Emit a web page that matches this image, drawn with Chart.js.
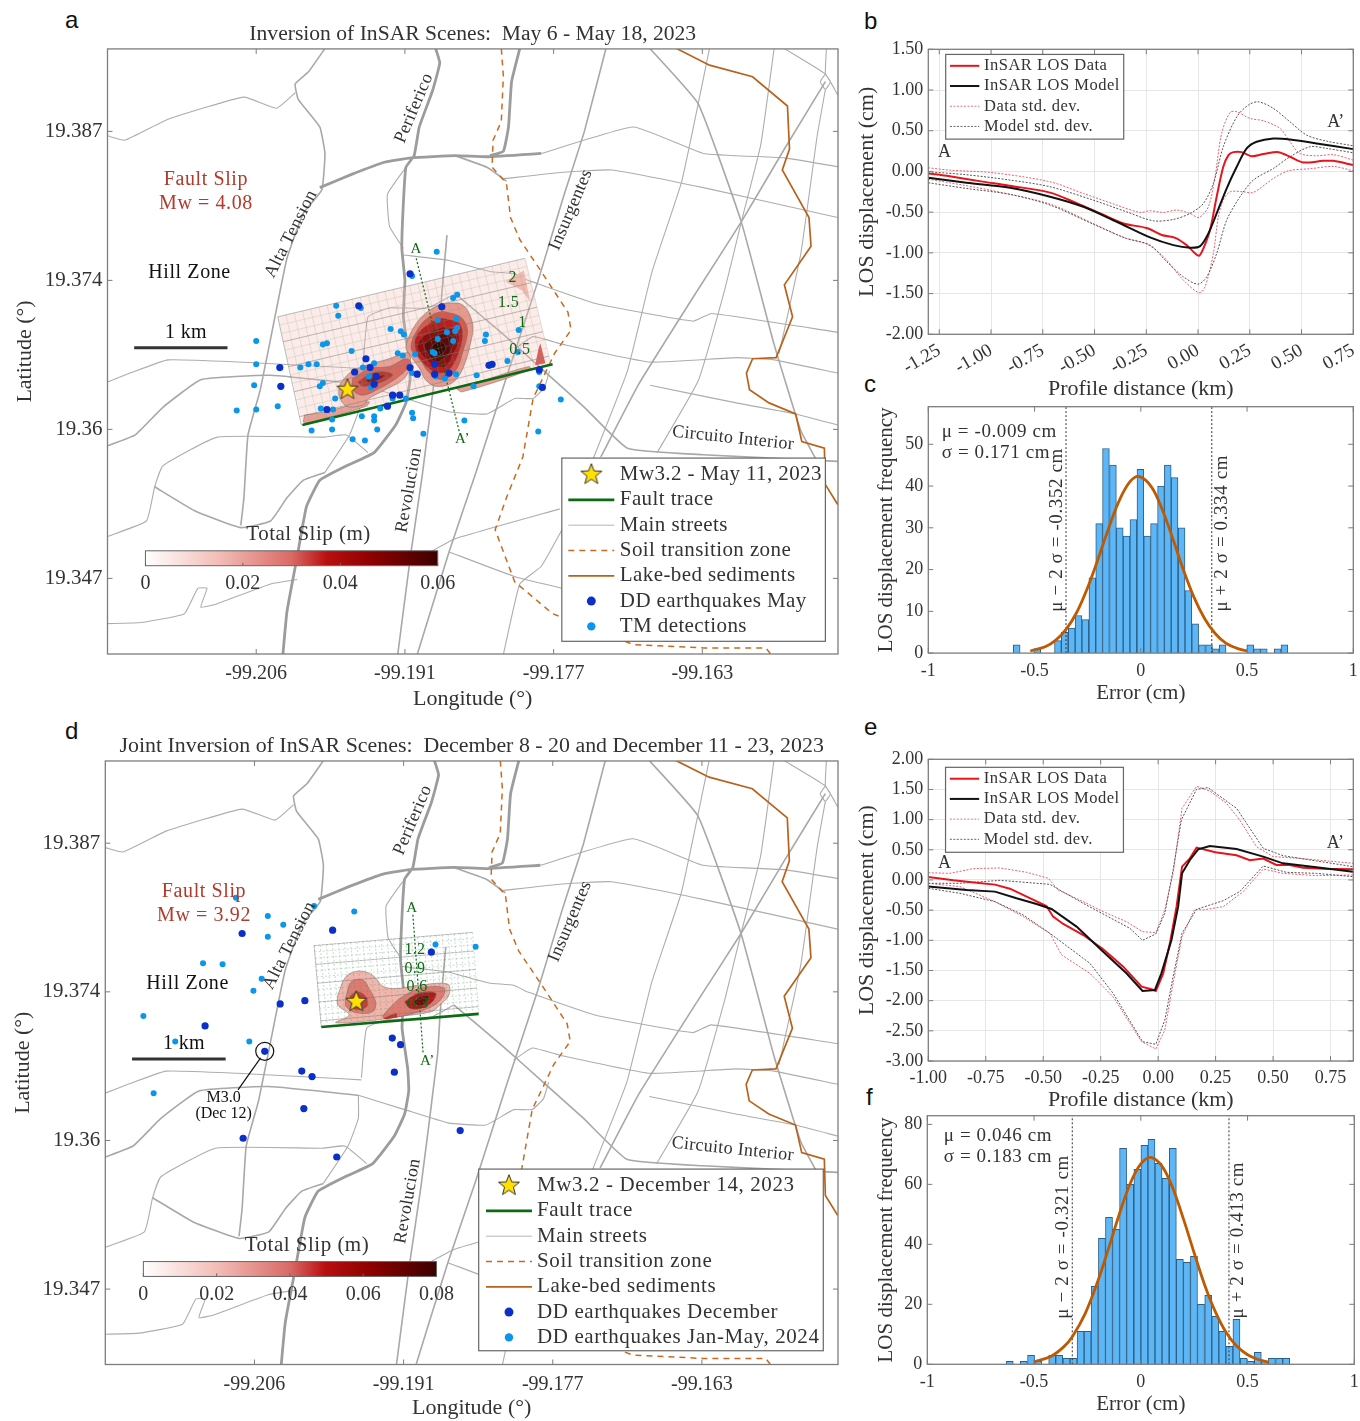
<!DOCTYPE html>
<html>
<head>
<meta charset="utf-8">
<style>
	html, body { margin: 0; padding: 0; background: #fff; }
	#page { position: relative; width: 1360px; height: 1421px; overflow: hidden; }
	canvas { position: absolute; }
	.tag { position: absolute; font: 24px "Liberation Sans", sans-serif; color: #111; line-height: 24px; }
</style>
<script src="https://cdn.jsdelivr.net/npm/chart.js@4"></script>
</head>
<body>
<div id="page">
	<div class="tag" style="left:65px;top:8px">a</div>
	<div class="tag" style="left:864px;top:9px">b</div>
	<div class="tag" style="left:864px;top:372px">c</div>
	<div class="tag" style="left:65px;top:719px">d</div>
	<div class="tag" style="left:864px;top:715px">e</div>
	<div class="tag" style="left:866px;top:1085px">f</div>
</div>
<script>
// map polylines are [a, b] pairs: lon = -99 - a/1000, lat = 19 + b/1000
const roadsThick = [
	[[188.5,394.5],[188.1,393.2],[188.8,390.7],[190.1,387.4],[190.6,384.8],[191.4,383.75],[191.65,380.5],[191.8,376.4],[191.5,373.5],[191.65,370.2],[191.1,366.5],[191,364.5],[191.4,362.4],[192.4,360.4],[194.5,357.9],[197.2,356.7],[199.8,355.4],[201.1,353],[202,348.5],[203,343.5],[203.4,339.6]],
	[[199.8,381.9],[196.7,383.1],[193.5,384.2],[190.9,384.6],[186.6,384.8],[183.5,384.7],[178.2,385]],
	[[180.3,394.5],[181.1,391.5],[181.4,387.4],[181.9,385.2],[183.2,384.8]],
]
const roadsMedium = [
	[[199.3,394.5],[200.9,392.4],[202.2,391.3],[201.9,389.9],[199.8,387.4],[199.3,385],[199.6,381.7],[201.4,379.6],[203,375.5],[204,371],[205.6,363.6],[206.8,359.5],[207.2,353.8],[207.5,351.3]],
	[[220.5,358.5],[217.8,359.5],[215.1,362],[211.4,364.5],[204.6,364.9],[195.9,364.1]],
	[[215.9,354.8],[211.95,352.6],[207.5,351.1],[204.6,351.7],[203,353.8],[201.4,355.4],[199.3,356.1]],
	[[186.6,384.8],[183.5,383.75],[181.6,382.5]],
	[[171.9,394.5],[174,387],[176.1,380.9],[178.5,373.5],[181.4,365.3],[184.5,356.3],[187.2,348.9],[190.3,339.6]],
	[[150.5,391.5],[154.5,385.4],[158.7,378.8],[162.9,372.7],[168.7,364.1],[172.4,357.5]],
	[[167.6,394.5],[162.9,389.5],[158.7,378.8],[155.5,367.7],[152.9,359.9],[151.3,357.1]],
	[[186.6,372.3],[181.9,368.6],[177.7,365.1],[174,362],[169.8,358.3],[162.4,357.7],[149.3,357.1]],
	[[187.4,377.6],[187.9,372.3],[188.2,367.8],[189.8,355.9],[190.9,348.9],[192.2,339.6]],
]
const roadsThin = [
	[[220.5,386.6],[218.8,386.2],[214.6,388.1],[207.2,390.1],[204,389.1],[202.2,390.5]],
	[[220.5,364.3],[218.3,365.1],[214.6,366.3],[207.7,366.1],[199.3,365.7],[195.6,365.5]],
	[[220.5,350.3],[216.7,351.7],[215.9,354.8],[215.1,356.7],[209.8,359.3],[199.3,359.3],[197.2,359.5],[195.1,357.9]],
	[[220.5,342.4],[217.2,342.5],[213,343.3],[211.7,345.6],[210.8,345.6],[211.4,343.9],[209.8,344.2],[204.6,346],[202,346.4]],
	[[195.9,364.1],[195.9,362],[196.9,359.5],[199.3,356.1]],
	[[195.9,364.1],[191.4,362.8],[187.2,361.6],[183.5,361.4],[180.8,362.8],[179,362.8],[177.9,363.8],[177.4,365.3]],
	[[161.8,394.5],[164.5,382.5],[167.4,374.3],[169.8,365.3],[172.9,357.9],[175,353],[178.2,347.6],[180.3,346],[181.9,339.6]],
	[[155.5,394.5],[156.8,385.8],[158.7,378.8],[160.3,372.7],[162.9,364.4],[166.9,357.9]],
	[[154.5,394.5],[150.5,392.2],[149.3,390.3]],
	[[150.4,394.5],[150.5,392.2],[150,391.5],[150.5,390.8],[151,391.5],[150.5,392.2]],
	[[150.5,390.8],[151.3,386.6],[152.9,375.9],[155,366.9]],
	[[178.2,385],[169.2,387.4],[162.4,385],[154.5,384.6],[149.3,383.8]],
	[[181.9,382.7],[176.1,383.3],[171.3,383.5],[162.4,381.9],[149.3,379.2]],
	[[179.5,373.5],[172.9,371.4],[163.4,369.8],[161.6,370.5],[149.3,368.8]],
	[[180.8,367.3],[179,368.4],[176.1,367.7],[167.6,366.1],[159.2,366.5],[155.5,366.3],[149.3,365.1]],
	[[167.6,364],[159.2,362.4],[153.4,361.4],[149.3,360.4]],
	[[189.8,348.5],[186.6,350.1],[176.4,352.8]],
	[[187.2,348.9],[180.6,346.6],[176.1,345.6]],
	[[191.4,383.75],[193.2,381.3],[193,378.4],[191.65,376.4]],
	[[191.65,375.8],[187.2,375.3],[183.2,374.3],[180.8,374.1],[179.5,373.5]],
	[[195.6,365.7],[195.1,370.2],[193,371],[189.3,371],[186.6,372.3]],
]
const soilZone = [[182.1,394.5],[181.9,392],[182.1,387.9],[182.9,386.2],[183,383.75],[181.6,382.3],[181.2,379.2],[180.3,377.2],[178.2,374.3],[175.6,370.6],[175.3,369],[176.9,366.9],[179,362.8],[180,357.5],[181.6,353.8],[182.7,350.9],[180.8,346.2],[177.1,343.3],[169.2,340.5],[162.4,340.2],[156.3,340.2],[155.8,339.6]]
const lakeBed = [[165,394.5],[161.8,393],[157.6,391.95],[154.2,389.3],[154,385.4],[154.7,383.5],[152.1,379.2],[151.9,376.6],[154.5,373.1],[153.7,370.2],[155.3,366.5],[157.6,366.4],[158.2,365.1],[157.9,363.6],[156,362.4],[153.4,361.4],[152.8,358.9],[150.6,358.3],[150.5,355],[149.3,353.2]]

// panel a: fault plane and slip contours
const meshA = [[203.9,370.2],[179.8,375.5],[177.25,365.9],[201.6,360.4]]
const slipA = [
	{ c: 'rgba(245,190,180,0.30)', p: [[203.9,370.2],[179.7,375.5],[177.3,366],[201.5,360.6]] },
	{ c: '#f3b9ae', p: [[179.9,374.4],[179.3,371.6],[180.1,372.6],[181.7,373.4]] },
	{ c: '#e8a095', p: [[201.3,361.3],[199.2,361.6],[197.2,362.1],[195,362.5],[195.3,362.1],[198.9,361.1],[201.3,360.6]] },
	{ c: '#e8a095', p: [[186.5,363.7],[183.3,364.6],[179.4,365.7],[179.3,365.4],[185.9,363.4]] },
	{ c: '#d8605a', p: [[178.3,367.8],[177.8,366],[178.8,365.8],[178.5,367.2]] },
	{ c: '#ec9f94', p: [[197.9,364],[196.9,365.1],[195.3,365.8],[193.4,366.3],[192.1,366.7],[191.1,366.9],[191.1,365.4],[191.7,364.5],[193.4,363.6],[195,362.8],[195.6,362.2],[197.2,362.1],[197.9,363]] },
	{ c: '#d9665c', p: [[196.6,364.6],[195,365.5],[193,365.7],[191.4,366.4],[190.9,366],[192.1,364.8],[194,363.7],[195.6,363.1],[196.6,363.6]] },
	{ c: '#b83a35', p: [[196.1,364.3],[194.7,365.1],[193.4,365.2],[192.7,364.9],[194,364.2],[195.6,363.9]] },
	{ c: '#8c1818', p: [[195.3,364.5],[194.3,364.8],[193.5,364.9],[194,364.5],[195,364.2]] },
	{ c: '#e8988c', p: [[187.8,371.4],[185.9,371.3],[184.9,369.6],[185.1,367.8],[185.9,365.4],[186.9,364.2],[188.5,363.9],[189.5,364.5],[190,365.4],[190.9,366.6],[191.4,367.5],[190.4,369.6],[189.1,370.8]] },
	{ c: '#d4584e', p: [[187.8,370.7],[186.1,370.2],[185.4,369],[185.9,366.9],[186.5,365.4],[187.8,364.5],[189.1,365.1],[190,366.3],[190.9,367.4],[190.1,369.3],[188.8,370.4]] },
	{ c: '#b81f1f', p: [[187.8,370.1],[186.2,369.6],[185.9,368.4],[186.4,366.6],[187.2,365.4],[188.3,365.1],[189.5,365.8],[190.4,367],[190.4,368.4],[189.1,369.6]] },
	{ c: '#8c0f0f', p: [[187.8,369.3],[186.5,369],[186.2,368.1],[186.9,366.6],[187.5,365.7],[188.5,365.7],[189.5,366.4],[190.3,367.5],[189.5,368.6]] },
	{ c: '#5e0a0a', p: [[187.8,368.7],[186.8,368.3],[187,367.2],[187.7,366.4],[188.5,366.1],[189.3,366.9],[189.6,367.7],[188.8,368.3]] },
	{ c: '#3e0505', p: [[188,368],[187.5,367.5],[187.8,366.9],[188.5,366.7],[189,367.2],[188.7,367.7]] },
]
const traceA = [[201.5,360.4],[177.1,365.9]]
const profileA = [[190.4,375.5],[186.2,359.8]]
const ddMay = [[191,374.1],[196,371.2],[187.9,371.1],[195.3,366.4],[203.7,365.6],[196.4,365.2],[194.9,365.6],[194.3,364.8],[194.5,364.1],[203.6,363.9],[199.1,361.8],[192.7,363.1],[192,363.1],[193.2,362.1],[191,365.6],[190.3,365],[188.6,365.9],[188.6,365],[187.2,365.1],[183,365.9],[183.3,365.8],[178.4,365.4],[178.1,363.8]]
const tmDetections = [[188.4,376.1],[190.8,373.9],[198.2,371.2],[198,370.3],[195.8,371],[186.8,371.9],[186.4,372.2],[192.9,369.1],[191.9,368.9],[191.6,368.6],[188.3,369.9],[186.5,370],[187.4,368.8],[186.4,369.2],[186.6,368.9],[188.3,368.2],[186.8,368],[183.6,368.6],[183.7,368],[180.4,369],[199.5,367.7],[199.1,367.8],[206,368],[196.7,367.1],[192.2,366.9],[191.7,366.7],[190.5,366.8],[188.8,367],[188.6,366.9],[180.5,367],[181.5,366.2],[206,365.9],[200.9,365.9],[200.1,365.9],[201.7,365.6],[195.6,365.6],[194.5,366],[190.8,365.1],[188.5,364.8],[187.6,364.6],[186.5,365],[184.5,364.9],[184.8,363.9],[195,364.8],[199.5,364.2],[199.8,363.9],[206.2,364],[198.3,362.8],[194.8,363.8],[203.9,362.1],[206,361.8],[207.9,361.7],[199.7,361.9],[198.5,361.8],[193.9,361.9],[192.7,362.8],[191.4,362.8],[190.8,361.5],[190.7,361],[195.7,361.2],[194.5,361.2],[194.5,360.8],[198.6,360.9],[194.2,360],[198.6,360],[200.6,359.9],[196.6,359.1],[195.4,359],[189.7,359.6],[185.7,360.8],[176.3,362.7],[178.5,359.8],[178.4,365.2],[178.4,363.9]]
const starA = [197.1,363.6]

// panel d: fault plane and slip contours
const meshD = [[200.2,377.7],[184.8,378.9],[184.2,371.6],[199.5,370.3]]
const slipD = [
	{ c: '#f2b5ac', p: [[197.9,373.2],[197.1,374.9],[195.8,375.4],[194.5,375],[193.5,374],[192.2,373.8],[190,374.1],[187.2,374.2],[187.1,373.2],[188.1,372.2],[188.8,371.7],[191.6,371.3],[194.5,370.9],[198.1,370.7],[196.8,371.4],[197.9,372.3]] },
	{ c: '#df7a70', p: [[197.1,373.1],[196.6,374.4],[195.5,374.6],[194.8,373.7],[194.2,372.5],[194.5,371.7],[196.1,371.6],[197.1,372.2]] },
	{ c: '#c73a36', p: [[196.7,373.1],[196.1,373.5],[195.3,373.2],[195,372.3],[195.6,371.9],[196.4,372]] },
	{ c: '#df7a70', p: [[191.9,372.9],[190,373.8],[187.6,373.9],[187.6,373.2],[188.5,372.3],[190,371.7],[192.2,371.2],[193.5,371.2],[192.9,372]] },
	{ c: '#b51818', p: [[191.4,372.6],[190,373.4],[188.4,373.4],[188.7,372.6],[189.8,372],[190.9,372]] },
	{ c: '#6e0c0c', p: [[190.6,372.6],[189.8,373.1],[189,373.1],[189.3,372.5],[190,372.2]] },
	{ c: '#c0312c', p: [[193.5,371.1],[192.2,371.6],[192.1,371.2],[193.2,371]] },
]
const traceD = [[199.5,370.3],[184.2,371.5]]
const profileD = [[190.6,380.5],[189.6,367.9]]
const ddDecember = [[207.2,378.8],[198.4,379.1],[188.8,377.1],[210.8,370.4],[203.5,372.4],[201.1,372.7],[205,368.1],[192.6,369.3],[191.8,368.7],[201.4,366.3],[200.4,365.8],[192.4,366.2],[201.2,362.9],[207.1,360.2],[186,360.9],[198,358.5]]
const ddJanMay = [[207.8,382.05],[204.7,380.4],[203.2,379.6],[204.7,378.5],[200.2,381.3],[196.3,380.8],[188.4,377.8],[184.5,377.6],[211,376.1],[209.1,376],[205.3,374.7],[206.1,373.6],[216.8,371.3],[213.7,369],[206.5,369],[215.8,364.3]]
const starD = [196.1,372.6]
const m3Event = [205,368.1]
const m3Leader = [[205.4,367.5],[207.6,364.6]]
const scaleBar = [[217.9,367.4],[208.8,367.4]]

// map axes
const lonTicks = [-99.206, -99.1915, -99.177, -99.1625]
const lonTickLabels = ['-99.206', '-99.191', '-99.177', '-99.163']
const latTicks = [19.3465, 19.36, 19.3735, 19.387]
const latTickLabels = ['19.347', '19.36', '19.374', '19.387']

// panel b profile
const bDataX = [-1.303,-1.2,-1.04,-0.91,-0.715,-0.586,-0.473,-0.36,-0.248,-0.175,-0.11,-0.055,-0.023,0.005,0.026,0.058,0.09,0.122,0.147,0.171,0.211,0.259,0.316,0.388,0.444,0.509,0.605,0.654,0.75]
const bData = [-0.025,-0.06,-0.125,-0.175,-0.26,-0.39,-0.515,-0.64,-0.695,-0.78,-0.815,-0.905,-0.985,-1.035,-0.945,-0.72,-0.31,0.057,0.2,0.237,0.237,0.188,0.213,0.237,0.18,0.11,0.13,0.13,0.078]
const bModelX = [-1.303,-1.118,-0.908,-0.715,-0.554,-0.393,-0.232,-0.119,-0.039,0.01,0.05,0.09,0.138,0.187,0.235,0.283,0.364,0.444,0.573,0.75]
const bModel = [-0.078,-0.14,-0.2,-0.31,-0.434,-0.618,-0.81,-0.905,-0.937,-0.917,-0.76,-0.516,-0.21,0.057,0.282,0.364,0.405,0.393,0.344,0.274]
const bDataUp = [[-1.303,0.045],[-1.2,0.016],[-0.99,-0.016],[-0.715,-0.127],[-0.554,-0.27],[-0.393,-0.413],[-0.28,-0.503],[-0.232,-0.483],[-0.167,-0.503],[-0.103,-0.475],[-0.039,-0.516],[0.005,-0.565],[0.05,-0.434],[0.082,-0.065],[0.114,0.467],[0.155,0.725],[0.187,0.733],[0.251,0.651],[0.316,0.622],[0.396,0.528],[0.444,0.364],[0.493,0.22],[0.573,0.192],[0.654,0.205],[0.75,0.139]]
const bDataLow = [[-1.303,-0.094],[-1.2,-0.139],[-1.006,-0.229],[-0.715,-0.401],[-0.507,-0.639],[-0.36,-0.81],[-0.248,-0.892],[-0.167,-1.048],[-0.071,-1.334],[0.005,-1.49],[0.034,-1.416],[0.074,-1.007],[0.098,-0.557],[0.122,-0.352],[0.155,-0.25],[0.219,-0.25],[0.267,-0.258],[0.364,-0.086],[0.436,0.008],[0.541,0.033],[0.654,0.061],[0.75,0.008]]
const bModelUp = [[-1.303,-0.004],[-1.118,-0.041],[-0.908,-0.106],[-0.715,-0.188],[-0.507,-0.352],[-0.346,-0.495],[-0.216,-0.606],[-0.119,-0.589],[-0.039,-0.516],[0.026,-0.393],[0.074,-0.147],[0.122,0.303],[0.187,0.671],[0.243,0.815],[0.291,0.855],[0.364,0.774],[0.444,0.61],[0.525,0.446],[0.622,0.372],[0.75,0.315]]
const bModelLow = [[-1.303,-0.139],[-1.118,-0.209],[-0.908,-0.282],[-0.715,-0.413],[-0.507,-0.647],[-0.346,-0.823],[-0.232,-0.905],[-0.151,-1.109],[-0.071,-1.294],[0,-1.384],[0.042,-1.294],[0.09,-1.007],[0.138,-0.6],[0.203,-0.311],[0.267,-0.106],[0.364,0.037],[0.444,0.18],[0.541,0.303],[0.622,0.282],[0.75,0.229]]
const bTicksX = [-1.25,-1,-0.75,-0.5,-0.25,0,0.25,0.5,0.75]
const bTicksY = [-2,-1.5,-1,-0.5,0,0.5,1,1.5]

// panel e profile
const eData = [[-1,0.05],[-0.891,-0.005],[-0.79,-0.044],[-0.71,-0.077],[-0.645,-0.144],[-0.572,-0.276],[-0.486,-0.431],[-0.457,-0.608],[-0.413,-0.729],[-0.326,-0.912],[-0.239,-1.149],[-0.152,-1.436],[-0.072,-1.768],[-0.029,-1.812],[-0.01,-1.84],[0.022,-1.547],[0.051,-1.05],[0.08,-0.442],[0.104,0.221],[0.138,0.359],[0.167,0.536],[0.249,0.459],[0.341,0.409],[0.399,0.326],[0.457,0.354],[0.514,0.249],[0.572,0.249],[0.63,0.204],[0.717,0.188],[0.848,0.177]]
const eModel = [[-1,-0.11],[-0.833,-0.166],[-0.71,-0.193],[-0.616,-0.304],[-0.529,-0.398],[-0.464,-0.481],[-0.355,-0.773],[-0.239,-1.188],[-0.138,-1.547],[-0.068,-1.84],[-0.014,-1.823],[0.014,-1.547],[0.058,-0.994],[0.087,-0.442],[0.104,0.11],[0.138,0.331],[0.174,0.508],[0.225,0.564],[0.341,0.514],[0.457,0.387],[0.543,0.276],[0.688,0.21],[0.848,0.138]]
const eDataUp = [[-1,0.12],[-0.906,0.11],[-0.804,0.188],[-0.688,0.199],[-0.572,0.127],[-0.478,0.028],[-0.435,-0.166],[-0.326,-0.359],[-0.239,-0.525],[-0.138,-0.691],[-0.068,-0.856],[-0.01,-0.873],[0.029,-0.497],[0.065,0.11],[0.104,1.188],[0.167,1.552],[0.225,1.475],[0.297,1.271],[0.355,0.994],[0.428,0.552],[0.5,0.387],[0.616,0.359],[0.848,0.276]]
const eDataLow = [[-1,-0.055],[-0.862,-0.11],[-0.71,-0.359],[-0.587,-0.608],[-0.471,-0.884],[-0.42,-1.243],[-0.297,-1.547],[-0.196,-1.934],[-0.072,-2.68],[-0.01,-2.801],[0.029,-2.486],[0.065,-1.713],[0.104,-0.939],[0.159,-0.486],[0.196,-0.497],[0.283,-0.442],[0.37,-0.193],[0.428,0.055],[0.457,0.182],[0.543,0.11],[0.688,0.072],[0.848,0.083]]
const eModelUp = [[-1,-0.055],[-0.862,-0.055],[-0.688,-0.006],[-0.471,-0.072],[-0.326,-0.387],[-0.123,-0.801],[-0.068,-1],[-0.01,-0.895],[0.029,-0.552],[0.065,0.166],[0.101,0.994],[0.167,1.503],[0.217,1.53],[0.341,1.188],[0.457,0.525],[0.543,0.403],[0.688,0.315],[0.848,0.221]]
const eModelLow = [[-1,-0.138],[-0.862,-0.221],[-0.71,-0.359],[-0.587,-0.58],[-0.471,-0.884],[-0.297,-1.381],[-0.196,-1.878],[-0.068,-2.68],[-0.01,-2.724],[0.029,-2.32],[0.065,-1.602],[0.104,-0.884],[0.167,-0.486],[0.283,-0.343],[0.355,-0.193],[0.457,0.232],[0.558,0.127],[0.688,0.11],[0.848,0.055]]
const eTicksX = [-1,-0.75,-0.5,-0.25,0,0.25,0.5,0.75]
const eTicksY = [-3,-2.5,-2,-1.5,-1,-0.5,0,0.5,1,1.5,2]

// histograms
const cBins = [-0.584,-0.551,-0.519,-0.487,-0.454,-0.422,-0.39,-0.358,-0.325,-0.293,-0.261,-0.228,-0.196,-0.164,-0.131,-0.099,-0.067,-0.035,-0.002,0.03,0.062,0.095,0.127,0.159,0.192,0.224,0.256,0.288,0.321,0.353,0.385,0.418,0.45,0.482,0.515,0.547,0.579,0.611,0.644,0.676]
const cCounts = [2,0,0,1,0,0,3,5,6,9,8,18,31,49,45,30,28,32,44,28,31,40,45,42,30,15,7,2,2,1,2,0,0,0,2,1,1,0,1,2]
const cFit = [[-0.52,0.5],[-0.45,1.5],[-0.4,3.1],[-0.35,5.8],[-0.3,9.9],[-0.25,15.7],[-0.2,22.7],[-0.15,30.1],[-0.1,36.7],[-0.05,41.1],[-0.009,42.3],[0.05,39.8],[0.1,34.5],[0.15,27.5],[0.2,20],[0.25,13.4],[0.3,8.3],[0.35,4.7],[0.4,2.4],[0.45,1.2],[0.5,0.5]]
const cSigmaLines = [-0.352, 0.334]
const cTicksY = [0,10,20,30,40,50]
const fBins = [-0.614,-0.581,-0.548,-0.514,-0.481,-0.448,-0.415,-0.382,-0.348,-0.315,-0.282,-0.249,-0.216,-0.182,-0.149,-0.116,-0.083,-0.05,-0.016,0.017,0.05,0.083,0.116,0.15,0.183,0.216,0.249,0.282,0.316,0.349,0.382,0.415,0.448,0.482,0.515,0.548,0.581,0.614,0.648,0.681]
const fCounts = [1,0,1,3,1,0,3,3,2,2,11,11,26,42,49,45,72,60,65,73,75,67,62,72,35,34,36,20,23,16,11,6,15,2,1,4,1,2,2,2]
const fFit = [[-0.5,0.8],[-0.42,2.7],[-0.36,5.9],[-0.32,9.3],[-0.26,17],[-0.2,28],[-0.15,38.9],[-0.1,50.2],[-0.05,60.2],[0,66.8],[0.046,69],[0.1,66],[0.15,58.7],[0.2,48.4],[0.25,37.1],[0.3,26.3],[0.35,17.4],[0.4,10.6],[0.45,6],[0.5,3.2],[0.55,1.6],[0.6,0.7]]
const fSigmaLines = [-0.321, 0.413]
const fTicksY = [0,20,40,60,80]
const errTicks = [-1,-0.5,0,0.5,1]

const slipTicksA = [0,0.02,0.04,0.06]
const slipTicksD = [0,0.02,0.04,0.06,0.08]

const SERIF = '"Liberation Serif", serif'
const INK = '#333'
const EDGE = '#7d7d7d'
const RED = '#e8141c'
const ORANGE = '#c05a00'
const DARK_DOT = '#0a30c8'
const LIGHT_DOT = '#0a96ea'

const mapPt = (p) => ({ x: -99 - p[0] / 1000, y: 19 + p[1] / 1000 })
const xyPt = (p) => ({ x: p[0], y: p[1] })
const zipPts = (xs, ys) => xs.map((x, i) => ({ x: x, y: ys[i] }))

function joinLines(lines) {
	let out = []
	lines.forEach((l) => {
		out = out.concat(l.map(mapPt))
		out.push({ x: null, y: null })
	})
	return out
}

function lerp(a, b, t) {
	return [a[0] + (b[0] - a[0]) * t, a[1] + (b[1] - a[1]) * t]
}

// fault plane grid from its four corners
function meshLines(c, nu, nv, stepU, stepV) {
	const lines = []
	for (let i = 0; i <= nu; i += stepU) {
		lines.push([lerp(c[0], c[1], i / nu), lerp(c[3], c[2], i / nu)])
	}
	for (let j = 0; j <= nv; j += stepV) {
		lines.push([lerp(c[0], c[3], j / nv), lerp(c[1], c[2], j / nv)])
	}
	return joinLines(lines)
}

function makeStar(r) {
	const cv = document.createElement('canvas')
	cv.width = cv.height = r * 2 + 4
	const g = cv.getContext('2d')
	g.translate(r + 2, r + 2)
	g.beginPath()
	for (let i = 0; i < 10; i++) {
		const rad = i % 2 ? r * 0.42 : r
		const ang = -Math.PI / 2 + (i * Math.PI) / 5
		g.lineTo(rad * Math.cos(ang), rad * Math.sin(ang))
	}
	g.closePath()
	g.fillStyle = '#ffe000'
	g.fill()
	g.lineWidth = 1
	g.strokeStyle = '#333'
	g.stroke()
	return cv
}
const starImage = makeStar(11)

function drawText(ctx, s, x, y, o) {
	o = o || {}
	ctx.save()
	ctx.translate(x, y)
	if (o.rot) ctx.rotate((o.rot * Math.PI) / 180)
	ctx.font = (o.size || 18) + 'px ' + SERIF
	ctx.letterSpacing = (o.spacing || 0) + 'px'
	ctx.fillStyle = o.color || INK
	ctx.textAlign = o.align || 'center'
	ctx.textBaseline = 'middle'
	ctx.fillText(s, 0, 0)
	ctx.restore()
}

const framePlugin = {
	id: 'frame',
	afterDatasetsDraw(chart) {
		const { ctx, chartArea: a, scales } = chart
		ctx.save()
		ctx.strokeStyle = EDGE
		ctx.lineWidth = 1
		ctx.beginPath()
		scales.x.ticks.forEach((t) => {
			const px = scales.x.getPixelForValue(t.value)
			ctx.moveTo(px, a.bottom)
			ctx.lineTo(px, a.bottom - 5)
			ctx.moveTo(px, a.top)
			ctx.lineTo(px, a.top + 5)
		})
		scales.y.ticks.forEach((t) => {
			const py = scales.y.getPixelForValue(t.value)
			ctx.moveTo(a.left, py)
			ctx.lineTo(a.left + 5, py)
			ctx.moveTo(a.right, py)
			ctx.lineTo(a.right - 5, py)
		})
		ctx.stroke()
		ctx.lineWidth = 1.3
		ctx.strokeRect(a.left, a.top, a.right - a.left, a.bottom - a.top)
		ctx.restore()
	},
}

// free text anchored in data coordinates
const notesPlugin = {
	id: 'notes',
	afterDatasetsDraw(chart, args, opts) {
		const { ctx, scales } = chart
		;(opts.items || []).forEach((n) => {
			drawText(ctx, n.text, scales.x.getPixelForValue(n.x), scales.y.getPixelForValue(n.y), n)
		})
	},
}

const slipBarPlugin = {
	id: 'slipBar',
	afterDatasetsDraw(chart, args, opts) {
		if (!opts.ticks) return
		const { ctx, scales } = chart
		const p = mapPt([opts.west, opts.top])
		const q = mapPt([opts.east, opts.bottom])
		const x0 = scales.x.getPixelForValue(p.x)
		const x1 = scales.x.getPixelForValue(q.x)
		const y0 = scales.y.getPixelForValue(p.y)
		const y1 = scales.y.getPixelForValue(q.y)
		const g = ctx.createLinearGradient(x0, 0, x1, 0)
		g.addColorStop(0, '#ffffff')
		g.addColorStop(0.25, '#f3bdb7')
		g.addColorStop(0.5, '#d96a66')
		g.addColorStop(0.62, '#b90f0f')
		g.addColorStop(0.78, '#8c0000')
		g.addColorStop(1, '#3c0000')
		ctx.save()
		ctx.fillStyle = g
		ctx.fillRect(x0, y0, x1 - x0, y1 - y0)
		ctx.strokeStyle = '#666'
		ctx.lineWidth = 1
		ctx.strokeRect(x0, y0, x1 - x0, y1 - y0)
		const last = opts.ticks[opts.ticks.length - 1]
		opts.ticks.forEach((t) => {
			const px = x0 + ((x1 - x0) * t) / last
			ctx.beginPath()
			ctx.moveTo(px, y1)
			ctx.lineTo(px, y1 - 3)
			ctx.stroke()
			drawText(ctx, String(t), px, y1 + 18, { size: 20 })
		})
		drawText(ctx, 'Total Slip (m)', (x0 + x1) / 2 + 17, y0 - 16, { size: 21, spacing: 0.5 })
		ctx.restore()
	},
}

const boxLegendPlugin = {
	id: 'boxLegend',
	afterDatasetsDraw(chart, args, opts) {
		if (!opts.rows) return
		const { ctx, scales } = chart
		const x0 = scales.x.getPixelForValue(opts.box[0])
		const x1 = scales.x.getPixelForValue(opts.box[2])
		const y0 = scales.y.getPixelForValue(opts.box[1])
		const y1 = scales.y.getPixelForValue(opts.box[3])
		ctx.save()
		ctx.fillStyle = '#fff'
		ctx.fillRect(x0, y0, x1 - x0, y1 - y0)
		ctx.strokeStyle = '#666'
		ctx.lineWidth = 1.2
		ctx.strokeRect(x0, y0, x1 - x0, y1 - y0)
		opts.rows.forEach((r, i) => {
			const y = y0 + opts.first + i * opts.step
			const sx0 = x0 + opts.sample[0]
			const sx1 = x0 + opts.sample[1]
			if (r.kind === 'line' || r.kind === 'dash') {
				ctx.beginPath()
				ctx.setLineDash(r.dash || [])
				ctx.strokeStyle = r.color
				ctx.lineWidth = r.width
				ctx.moveTo(sx0, y)
				ctx.lineTo(sx1, y)
				ctx.stroke()
				ctx.setLineDash([])
			} else if (r.kind === 'dot') {
				ctx.beginPath()
				ctx.fillStyle = r.color
				ctx.arc((sx0 + sx1) / 2, y, r.width, 0, Math.PI * 2)
				ctx.fill()
			} else if (r.kind === 'star') {
				ctx.drawImage(starImage, (sx0 + sx1) / 2 - starImage.width / 2, y - starImage.height / 2)
			}
			drawText(ctx, r.label, x0 + opts.text, y, { size: opts.size, align: 'left', spacing: opts.spacing })
		})
		ctx.restore()
	},
}

const allPlugins = [framePlugin, notesPlugin, slipBarPlugin, boxLegendPlugin]

// canvas placed at box, chart area forced to r = {l, t, r, b}
function place(id, box, r, titleH) {
	const cv = document.createElement('canvas')
	cv.id = id
	cv.width = box.w
	cv.height = box.h
	cv.style.left = box.x + 'px'
	cv.style.top = box.y + 'px'
	document.getElementById('page').appendChild(cv)
	return {
		canvas: cv,
		layout: { padding: { left: 0, top: titleH ? 0 : r.t - box.y, right: box.x + box.w - r.r, bottom: 0 } },
		yWidth: r.l - box.x,
		xHeight: box.y + box.h - r.b,
	}
}

function axisX(pl, o) {
	return {
		type: 'linear',
		min: o.min,
		max: o.max,
		grid: { display: !!o.grid, color: '#e6e6e6', drawTicks: false, lineWidth: 1 },
		border: { display: false },
		title: { display: true, text: o.title, color: INK, font: { family: SERIF, size: o.titleSize }, padding: 0 },
		ticks: {
			color: INK,
			padding: o.padding,
			autoSkip: false,
			minRotation: o.rot || 0,
			maxRotation: o.rot || 0,
			font: { family: SERIF, size: o.size },
			callback: o.label,
		},
		afterBuildTicks(s) { s.ticks = o.ticks.map((v) => ({ value: v })) },
		afterFit(s) {
			s.height = pl.xHeight
			s.paddingLeft = 0
			s.paddingRight = 0
		},
	}
}

function axisY(pl, o) {
	const a = axisX(pl, o)
	a.afterFit = (s) => {
		s.width = pl.yWidth
		s.paddingTop = 0
		s.paddingBottom = 0
	}
	return a
}

const basePlugins = (pluginOpts) => Object.assign({ legend: { display: false }, tooltip: { enabled: false } }, pluginOpts)

function polyLine(data, color, width, extra) {
	return Object.assign({ type: 'scatter', data: data, showLine: true, pointRadius: 0, borderColor: color, borderWidth: width, backgroundColor: 'transparent', tension: 0 }, extra || {})
}

function dots(list, color, radius) {
	return { type: 'scatter', data: list.map(mapPt), pointRadius: radius, backgroundColor: color, borderWidth: 0, pointBorderWidth: 0, showLine: false }
}

function buildMap(o) {
	const pl = place(o.id, o.box, o.area, true)
	let ds = [
		polyLine(joinLines(roadsThin), '#adadad', 1.1, { tension: 0.12 }),
		polyLine(joinLines(roadsMedium), '#a8a8a8', 1.6, { tension: 0.12 }),
		polyLine(joinLines(roadsThick), '#9c9c9c', 2.8, { tension: 0.12 }),
		polyLine(soilZone.map(mapPt), '#c96a20', 1.5, { borderDash: [6, 5] }),
		polyLine(lakeBed.map(mapPt), '#b8621b', 1.7),
	]
	o.slip.forEach((s) => {
		ds.push(polyLine(s.p.concat([s.p[0]]).map(mapPt), s.p.length < 5 ? 'transparent' : 'rgba(110,100,100,0.55)', 0.9, { fill: 'shape', backgroundColor: s.c, tension: s.p.length < 5 ? 0 : 0.35 }))
	})
	ds.push(polyLine(meshLines(o.mesh, o.meshU, o.meshV, 1, 1), o.meshColor, 0.5, o.meshDash ? { borderDash: [2, 2] } : {}))
	ds.push(polyLine(meshLines(o.mesh, o.meshU, o.meshV, o.meshU + 1, 3), 'rgba(120,120,120,0.42)', 0.9))
	ds.push(polyLine(o.trace.map(mapPt), '#0c6a14', 2.6))
	ds.push(polyLine(o.profile.map(mapPt), '#0c6a14', 1.2, { borderDash: [2, 2] }))
	ds.push(polyLine(scaleBar.map(mapPt), '#333', 3))
	if (o.leader) ds.push(polyLine(o.leader.map(mapPt), '#111', 1.2))
	ds.push(dots(o.light, LIGHT_DOT, 3))
	ds.push(dots(o.dark, DARK_DOT, 3.6))
	if (o.circle) ds.push({ type: 'scatter', data: [mapPt(o.circle)], pointRadius: 9, pointBorderColor: '#111', pointBorderWidth: 1.2, backgroundColor: 'transparent', showLine: false })
	ds.push({ type: 'scatter', data: [mapPt(o.star)], pointStyle: starImage, pointRadius: 11, showLine: false })
	const n = ds.length
	ds.forEach((d, i) => { d.order = n - i })
	return new Chart(pl.canvas, {
		type: 'scatter',
		data: { datasets: ds },
		options: {
			responsive: false,
			animation: false,
			devicePixelRatio: 1,
			layout: pl.layout,
			scales: {
				x: axisX(pl, { min: -99.2205, max: -99.14927, ticks: lonTicks, label: (v, i) => lonTickLabels[i], title: 'Longitude (°)', titleSize: 22, size: 20, padding: 8 }),
				y: axisY(pl, { min: 19.33965, max: 19.39447, ticks: latTicks, label: (v, i) => latTickLabels[i], title: 'Latitude (°)', titleSize: 22, size: 21, padding: 5 }),
			},
			plugins: basePlugins({
				title: { display: true, text: o.title, fullSize: false, color: INK, font: { family: SERIF, size: o.titleSize, weight: 'normal', lineHeight: 1.2 }, padding: { top: o.titleTop, bottom: 2 } },
				notes: { items: o.notes },
				slipBar: { ticks: o.slipTicks, west: 216.8, east: 188.3, top: 349, bottom: 347.65 },
				boxLegend: Object.assign({ first: 16.5, step: 25.3, size: 21 }, o.legend),
			}),
		},
		plugins: allPlugins,
	})
}

function mapNote(p, text, extra) {
	const q = mapPt(p)
	return Object.assign({ x: q.x, y: q.y, text: text, size: 18, spacing: 0.3 }, extra || {})
}

const FAULT_RED = '#b23a2c'
const GREEN = '#0c6a14'
const commonNotes = [
	mapNote([212.5,374.2], 'Hill Zone', { size: 20, spacing: 0.6, color: '#111' }),
	mapNote([212.85,368.8], '1 km', { size: 20, color: '#111' }),
	mapNote([190.6,389.1], 'Periferico', { rot: -67 }),
	mapNote([202.6,377.7], 'Alta Tension', { rot: -63 }),
	mapNote([175.3,379.9], 'Insurgentes', { rot: -67 }),
	mapNote([191.1,354.5], 'Revolucion', { rot: -80 }),
	mapNote([159.5,359.2], 'Circuito Interior', { rot: 6 }),
]

buildMap({
	id: 'mapA',
	box: { x: 12, y: 13, w: 838, h: 699 },
	area: { l: 107.5, t: 49, r: 839.5, b: 654 },
	title: 'Inversion of InSAR Scenes:  May 6 - May 18, 2023',
	titleSize: 21.6, titleTop: 8,
	slip: slipA, mesh: meshA, meshU: 30, meshV: 13, meshColor: 'rgba(120,165,130,0.42)',
	trace: traceA, profile: profileA, star: starA,
	dark: ddMay, light: tmDetections,
	slipTicks: slipTicksA,
	notes: commonNotes.concat([
		mapNote([210.9,382.6], 'Fault Slip', { size: 20, spacing: 0.6, color: FAULT_RED }),
		mapNote([210.9,380.4], 'Mw = 4.08', { size: 20, spacing: 0.6, color: FAULT_RED }),
		mapNote([190.4,376.3], 'A', { size: 15, color: GREEN }),
		mapNote([185.9,359.1], 'A’', { size: 15, color: GREEN }),
		mapNote([181,373.7], '2', { size: 16, color: GREEN }),
		mapNote([181.4,371.5], '1.5', { size: 16, color: GREEN }),
		mapNote([180.05,369.7], '1', { size: 16, color: GREEN }),
		mapNote([180.3,367.2], '0.5', { size: 16, color: GREEN }),
	]),
	legend: {
		box: [-99.1762, 19.3574, -99.1505, 19.3408],
		sample: [6.5, 52.5], text: 58, spacing: 0.4,
		rows: [
			{ kind: 'star', label: 'Mw3.2 - May 11, 2023' },
			{ kind: 'line', label: 'Fault trace', color: GREEN, width: 2.6 },
			{ kind: 'line', label: 'Main streets', color: '#b5b5b5', width: 1 },
			{ kind: 'dash', label: 'Soil transition zone', color: '#c96a20', width: 1.5, dash: [6, 5] },
			{ kind: 'line', label: 'Lake-bed sediments', color: '#b8621b', width: 1.7 },
			{ kind: 'dot', label: 'DD earthquakes May', color: DARK_DOT, width: 4.5 },
			{ kind: 'dot', label: 'TM detections', color: LIGHT_DOT, width: 4.2 },
		],
	},
})

buildMap({
	id: 'mapD',
	box: { x: 10, y: 724.7, w: 840, h: 696.3 },
	area: { l: 105.3, t: 760.7, r: 839, b: 1364.5 },
	title: 'Joint Inversion of InSAR Scenes:  December 8 - 20 and December 11 - 23, 2023',
	titleSize: 21.9, titleTop: 7.7,
	slip: slipD, mesh: meshD, meshU: 26, meshV: 13, meshDash: true, meshColor: 'rgba(90,150,105,0.65)',
	trace: traceD, profile: profileD, star: starD,
	dark: ddDecember, light: ddJanMay,
	circle: m3Event, leader: m3Leader,
	slipTicks: slipTicksD,
	notes: commonNotes.concat([
		mapNote([210.9,382.6], 'Fault Slip', { size: 20, spacing: 0.6, color: FAULT_RED }),
		mapNote([210.9,380.4], 'Mw = 3.92', { size: 20, spacing: 0.6, color: FAULT_RED }),
		mapNote([209,363.9], 'M3.0', { size: 16, color: '#111', spacing: 0 }),
		mapNote([209,362.4], '(Dec 12)', { size: 16, color: '#111', spacing: 0 }),
		mapNote([190.7,381.1], 'A', { size: 15, color: GREEN }),
		mapNote([189.2,367.2], 'A’', { size: 15, color: GREEN }),
		mapNote([190.4,377.3], '1.2', { size: 16, color: GREEN }),
		mapNote([190.4,375.6], '0.9', { size: 16, color: GREEN }),
		mapNote([190.2,374], '0.6', { size: 16, color: GREEN }),
		mapNote([190.1,372.4], '0.3', { size: 16, color: GREEN }),
	]),
	legend: {
		box: [-99.1842, 19.3574, -99.1507, 19.3409],
		sample: [7.3, 53.3], text: 58.3, spacing: 0.6,
		rows: [
			{ kind: 'star', label: 'Mw3.2 - December 14, 2023' },
			{ kind: 'line', label: 'Fault trace', color: GREEN, width: 2.6 },
			{ kind: 'line', label: 'Main streets', color: '#b5b5b5', width: 1 },
			{ kind: 'dash', label: 'Soil transition zone', color: '#c96a20', width: 1.5, dash: [6, 5] },
			{ kind: 'line', label: 'Lake-bed sediments', color: '#b8621b', width: 1.7 },
			{ kind: 'dot', label: 'DD earthquakes December', color: DARK_DOT, width: 4.5 },
			{ kind: 'dot', label: 'DD earthquakes Jan-May, 2024', color: LIGHT_DOT, width: 4.2 },
		],
	},
})

function profileRows() {
	return [
		{ kind: 'line', label: 'InSAR LOS Data', color: RED, width: 2 },
		{ kind: 'line', label: 'InSAR LOS Model', color: '#111', width: 2 },
		{ kind: 'dash', label: 'Data std. dev.', color: '#e8707a', width: 1, dash: [2, 1.5] },
		{ kind: 'dash', label: 'Model std. dev.', color: '#666', width: 1, dash: [2, 1.5] },
	]
}

function buildProfile(o) {
	const pl = place(o.id, o.box, o.area, false)
	const t = o.tension
	const ds = [
		polyLine(o.dataUp, '#e8606a', 1, { borderDash: [2, 1.5], tension: t }),
		polyLine(o.dataLow, '#e8606a', 1, { borderDash: [2, 1.5], tension: t }),
		polyLine(o.modelUp, '#555', 1, { borderDash: [2, 1.5], tension: t }),
		polyLine(o.modelLow, '#555', 1, { borderDash: [2, 1.5], tension: t }),
		polyLine(o.data, RED, 2, { tension: t }),
		polyLine(o.model, '#111', 2, { tension: t }),
	]
	ds.forEach((d, i) => { d.order = ds.length - i })
	return new Chart(pl.canvas, {
		type: 'scatter',
		data: { datasets: ds },
		options: {
			responsive: false,
			animation: false,
			devicePixelRatio: 1,
			layout: pl.layout,
			scales: {
				x: axisX(pl, { min: o.xMin, max: o.xMax, ticks: o.ticksX, grid: true, rot: o.rot, label: (v) => v.toFixed(2), title: 'Profile distance (km)', titleSize: 22, size: o.rot ? 19 : 18, padding: o.rot ? 5 : 6 }),
				y: axisY(pl, { min: o.yMin, max: o.yMax, ticks: o.ticksY, grid: true, label: (v) => v.toFixed(2), title: 'LOS displacement (cm)', titleSize: 22, size: 18, padding: 5 }),
			},
			plugins: basePlugins({
				notes: { items: o.notes },
				boxLegend: { box: o.legendBox, first: 11.4, step: 20.2, sample: [4.3, 33.6], text: 38.3, size: 16.5, spacing: 0.5, rows: profileRows() },
			}),
		},
		plugins: allPlugins,
	})
}

buildProfile({
	id: 'profB',
	box: { x: 854, y: 35, w: 506, h: 367 },
	area: { l: 928.3, t: 49.3, r: 1353.3, b: 334.3 },
	xMin: -1.303, xMax: 0.75, yMin: -2, yMax: 1.5,
	ticksX: bTicksX, ticksY: bTicksY, rot: 30, tension: 0.3,
	data: zipPts(bDataX, bData), model: zipPts(bModelX, bModel),
	dataUp: bDataUp.map(xyPt), dataLow: bDataLow.map(xyPt), modelUp: bModelUp.map(xyPt), modelLow: bModelLow.map(xyPt),
	legendBox: [-1.219, 1.437, -0.359, 0.397],
	notes: [
		{ x: -1.225, y: 0.23, text: 'A', size: 18 },
		{ x: 0.665, y: 0.6, text: 'A’', size: 18 },
	],
})

buildProfile({
	id: 'profE',
	box: { x: 854, y: 745, w: 506, h: 368 },
	area: { l: 928.3, t: 759.3, r: 1353.3, b: 1061 },
	xMin: -1, xMax: 0.849, yMin: -3, yMax: 2,
	ticksX: eTicksX, ticksY: eTicksY, tension: 0,
	data: eData.map(xyPt), model: eModel.map(xyPt),
	dataUp: eDataUp.map(xyPt), dataLow: eDataLow.map(xyPt), modelUp: eModelUp.map(xyPt), modelLow: eModelLow.map(xyPt),
	legendBox: [-0.925, 1.867, -0.151, 0.459],
	notes: [
		{ x: -0.93, y: 0.276, text: 'A', size: 18 },
		{ x: 0.771, y: 0.608, text: 'A’', size: 18 },
	],
})

function buildHist(o) {
	const pl = place(o.id, o.box, o.area, false)
	const ds = [
		{ type: 'bar', data: zipPts(o.bins, o.counts), backgroundColor: '#5db6f6', borderColor: '#2c5f86', borderWidth: 1, categoryPercentage: 1, barPercentage: 1, order: 3 },
		polyLine(o.fit.map(xyPt), ORANGE, 2.8, { type: 'line', tension: 0.35, order: 1 }),
	]
	o.sigma.forEach((v) => {
		ds.push(polyLine([{ x: v, y: 0 }, { x: v, y: o.yMax }], '#333', 1, { type: 'line', borderDash: [2, 2], order: 2 }))
	})
	return new Chart(pl.canvas, {
		type: 'bar',
		data: { datasets: ds },
		options: {
			responsive: false,
			animation: false,
			devicePixelRatio: 1,
			layout: pl.layout,
			scales: {
				x: Object.assign(axisX(pl, { min: -1, max: 1, ticks: errTicks, label: (v) => String(v), title: 'Error (cm)', titleSize: 21, size: 18, padding: 7 }), { offset: false }),
				y: axisY(pl, { min: 0, max: o.yMax, ticks: o.ticksY, label: (v) => String(v), title: 'LOS displacement frequency', titleSize: 21, size: 18, padding: 5 }),
			},
			plugins: basePlugins({ notes: { items: o.notes } }),
		},
		plugins: allPlugins,
	})
}

buildHist({
	id: 'histC',
	box: { x: 874, y: 392, w: 486, h: 314.6 },
	area: { l: 928.3, t: 406.7, r: 1353.3, b: 653.7 },
	bins: cBins, counts: cCounts, fit: cFit, sigma: cSigmaLines, yMax: 59, ticksY: cTicksY,
	notes: [
		{ x: -0.937, y: 53, text: 'μ = -0.009 cm', size: 19, align: 'left', spacing: 0.6 },
		{ x: -0.937, y: 47.9, text: 'σ = 0.171 cm', size: 19, align: 'left', spacing: 0.6 },
		{ x: -0.396, y: 29.5, text: 'μ − 2 σ = -0.352 cm', size: 19, rot: -90, spacing: 0.6 },
		{ x: 0.38, y: 28.7, text: 'μ + 2 σ = 0.334 cm', size: 19, rot: -90, spacing: 0.6 },
	],
})

buildHist({
	id: 'histF',
	box: { x: 874, y: 1101, w: 486, h: 316 },
	area: { l: 927.3, t: 1115.7, r: 1354.3, b: 1364.3 },
	bins: fBins, counts: fCounts, fit: fFit, sigma: fSigmaLines, yMax: 82.9, ticksY: fTicksY,
	notes: [
		{ x: -0.923, y: 76.2, text: 'μ = 0.046 cm', size: 19, align: 'left', spacing: 0.6 },
		{ x: -0.923, y: 69.2, text: 'σ = 0.183 cm', size: 19, align: 'left', spacing: 0.6 },
		{ x: -0.364, y: 42.5, text: 'μ − 2 σ = -0.321 cm', size: 19, rot: -90, spacing: 0.6 },
		{ x: 0.456, y: 41.4, text: 'μ + 2 σ = 0.413 cm', size: 19, rot: -90, spacing: 0.6 },
	],
})
</script>
</body>
</html>
